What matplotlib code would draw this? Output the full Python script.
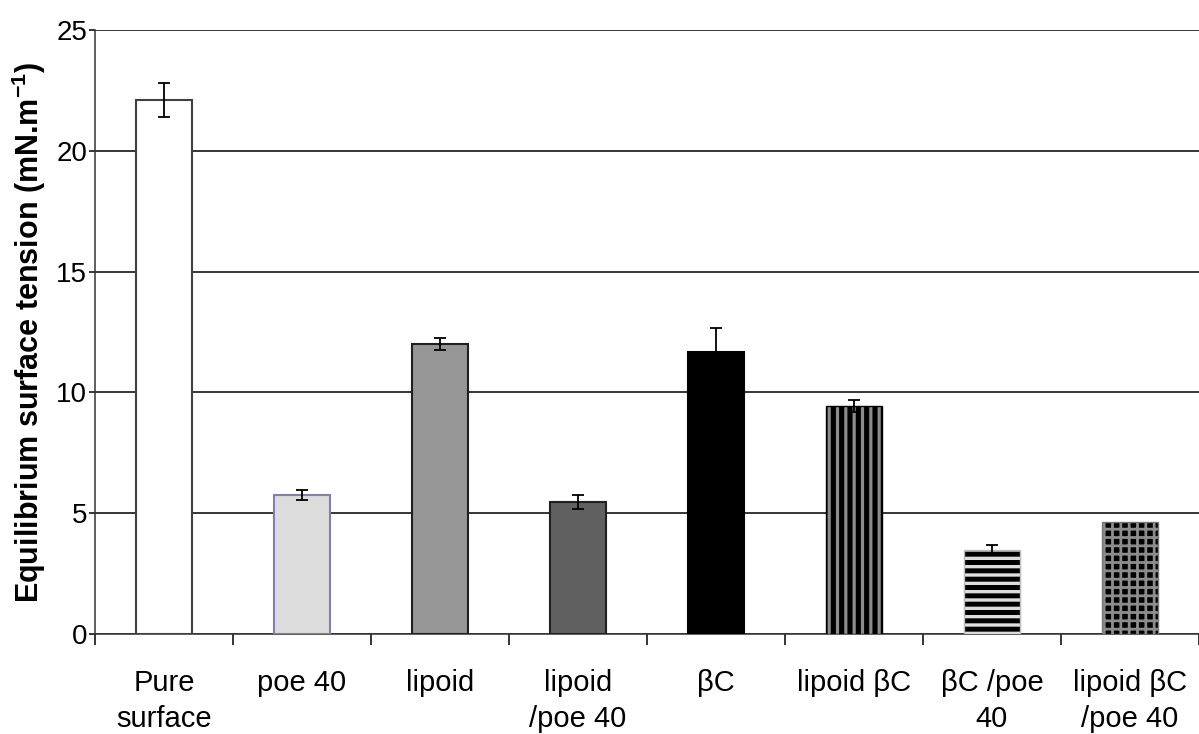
import numpy as np
import matplotlib
matplotlib.use("Agg")
import matplotlib.pyplot as plt

plt.rcParams['font.family'] = ['Liberation Sans', 'DejaVu Sans']
plt.rcParams['mathtext.fontset'] = 'custom'
plt.rcParams['mathtext.rm'] = 'Liberation Sans'
plt.rcParams['mathtext.bf'] = 'Liberation Sans:bold'

# data
labels = ['Pure\nsurface', 'poe 40', 'lipoid', 'lipoid\n/poe 40', 'βC',
          'lipoid βC', 'βC /poe\n40', 'lipoid βC\n/poe 40']
tension = [22.1, 5.75, 12.0, 5.46, 11.67, 9.44, 3.48, 4.64]
errors = [0.7, 0.2, 0.25, 0.3, 1.0, 0.25, 0.2, 0.0]

# bar looks
faces = ['white', '#dcdcdc', '#969696', '#606060', 'black', 'black', '#dedede', 'black']
edges = ['#404040', '#8080b0', '#202020', '#202020', 'black', 'black', '#bbbbbb', '#777777']
hatches = [None, None, None, None, None, '||', '--', '++']
hatch_cols = [None, None, None, None, None, '#8c8c8c', 'black', '#8c8c8c']
hatch_lws = [0, 0, 0, 0, 0, 2.3, 3.6, 2.0]

fig = plt.figure(figsize=(11.99, 7.34), dpi=100)
ax = fig.add_axes([95 / 1199, 1 - 634 / 734, 1 - 95 / 1199, (634 - 30) / 734])

x = np.arange(len(labels))
width = 0.41

for i in range(len(labels)):
    if hatches[i] is None:
        ax.bar(x[i], tension[i], width, color=faces[i], edgecolor=edges[i],
               linewidth=1.5, zorder=3)
    else:
        plt.rcParams['hatch.linewidth'] = hatch_lws[i]
        ax.bar(x[i], tension[i], width, color=faces[i], edgecolor=hatch_cols[i],
               hatch=hatches[i], linewidth=0, zorder=3)
        ax.bar(x[i], tension[i], width, fill=False, edgecolor=edges[i],
               linewidth=1.0, zorder=3)

for i in range(len(labels)):
    if errors[i] > 0:
        ax.errorbar(x[i], tension[i], yerr=errors[i], fmt='none', ecolor='black',
                    elinewidth=1.3, capsize=4, capthick=1.3, zorder=4)

ax.set_xlim(-0.5, len(labels) - 0.5)
ax.set_ylim(0, 25)
ax.set_yticks([0, 5, 10, 15, 20, 25])
ax.yaxis.grid(True, color='black', linewidth=1.1, zorder=0)
ax.set_axisbelow(True)

# ticks at category edges, labels at centres
ax.set_xticks(np.arange(len(labels) + 1) - 0.5)
ax.set_xticklabels([])
ax.set_xticks(x, minor=True)
ax.set_xticklabels(labels, minor=True, fontsize=21, linespacing=1.36)
ax.tick_params(axis='x', which='major', length=8, width=1.1, direction='out')
ax.tick_params(axis='x', which='minor', length=0, pad=25)
ax.tick_params(axis='y', length=4.5, width=1.1, labelsize=20, pad=1)

for side in ['top', 'right']:
    ax.spines[side].set_visible(False)
ax.spines['left'].set_linewidth(1.1)
ax.spines['bottom'].set_linewidth(1.1)
ax.spines['left'].set_color('#333333')
ax.spines['bottom'].set_color('#333333')

ax.set_ylabel(r'Equilibrium surface tension (mN.m$^{\mathbf{-1}}$)',
              fontsize=22, fontweight='bold', labelpad=6)

fig.savefig('out.png', dpi=100)
